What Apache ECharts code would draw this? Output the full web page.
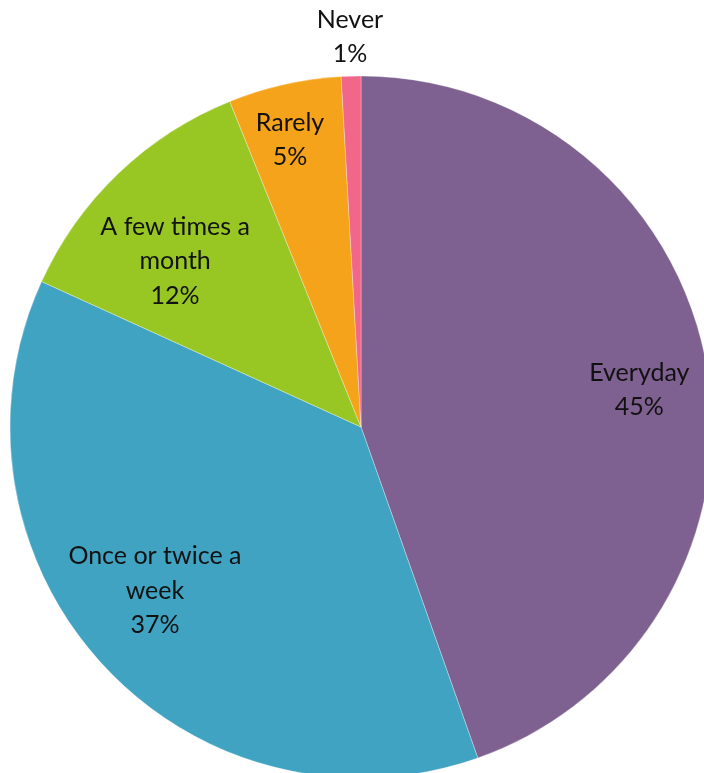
<!DOCTYPE html>
<html><head><meta charset="utf-8">
<script src="https://cdn.jsdelivr.net/npm/echarts@6/dist/echarts.min.js"></script>
<style>html,body{margin:0;padding:0;background:#fff}#c{width:704px;height:773px}</style>
</head><body><div id="c"></div>
<script>
const categories = ['Everyday', 'Once or twice a week', 'A few times a month', 'Rarely', 'Never'];
const values = [44.6, 37.2, 12.1, 5.2, 0.9];
const labelTexts = ['Everyday', 'Once or twice a\nweek', 'A few times a\nmonth', 'Rarely', 'Never'];

const colors = ['#7E6190', '#41A3C2', '#98C724', '#F5A31B', '#F0678A'];
const CX = 361, CY = 427, R = 351;
// label placement in polar terms: radius fraction and angular offset (deg)
const labelRadius = [0.80, 0.75, 0.71, 0.842, 1.112];
const labelAngleOffset = [2.1, 4.0, -4.5, -1.3, 0];

const chart = echarts.init(document.getElementById('c'), null, {renderer: 'canvas'});
chart.setOption({
  backgroundColor: '#fff',
  animation: false,
  series: [{
    type: 'pie',
    center: [CX, CY],
    radius: [0, R],
    startAngle: 90,
    clockwise: true,
    avoidLabelOverlap: false,
    itemStyle: {borderColor: 'rgba(255,255,255,0.6)', borderWidth: 0.5},
    label: {
      show: true,
      position: 'inside',
      color: '#111',
      fontFamily: 'Lato',
      fontSize: 25,
      lineHeight: 34.5,
      align: 'center',
      formatter: p => labelTexts[p.dataIndex] + '\n' + Math.round(p.percent) + '%'
    },
    labelLine: {show: false},
    labelLayout: function (p) {
      const i = p.dataIndex;
      const lr = p.labelRect;
      const lx = lr.x + lr.width / 2, ly = lr.y + lr.height / 2;
      // angle clockwise from 12 o'clock
      const a = Math.atan2(lx - CX, -(ly - CY)) + labelAngleOffset[i] * Math.PI / 180;
      const d = labelRadius[i] * R;
      return {x: CX + d * Math.sin(a), y: CY - d * Math.cos(a)};
    },
    data: categories.map((c, i) => ({name: c, value: values[i], itemStyle: {color: colors[i]}}))
  }]
});
</script>
</body></html>
